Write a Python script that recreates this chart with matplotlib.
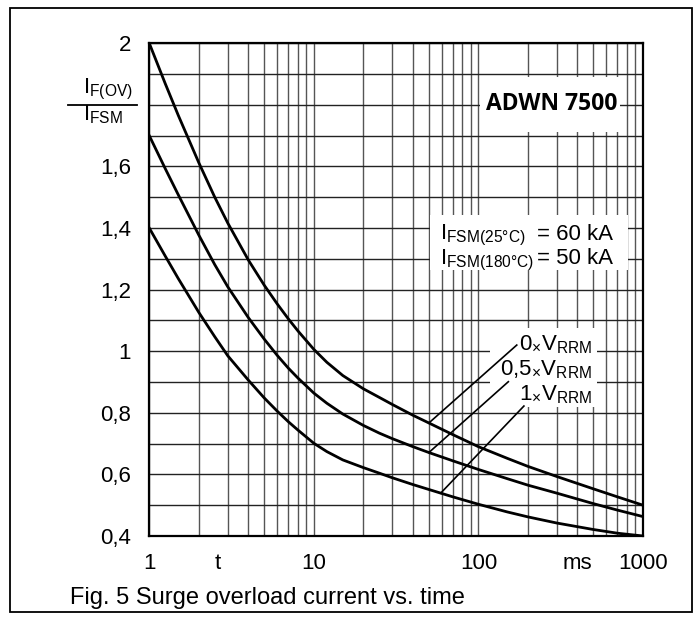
import numpy as np
import matplotlib.pyplot as plt
from matplotlib.patches import Rectangle
from matplotlib.ticker import LogLocator, MultipleLocator, NullFormatter

plt.rcParams['font.family'] = ['Liberation Sans', 'DejaVu Sans']
plt.rcParams['mathtext.default'] = 'regular'

# surge time t [ms]
t_ms = [1, 1.25, 1.5, 2, 2.5, 3, 4, 5, 6, 7, 8, 10, 12, 15, 20, 25, 30, 40, 50,
        70, 100, 150, 200, 300, 500, 700, 1000]
# I_F(OV) / I_FSM for the three reverse voltages
ratio_0v = [2.0, 1.869, 1.766, 1.612, 1.5, 1.416, 1.296, 1.214, 1.153, 1.105, 1.066, 1.006,
            0.964, 0.921, 0.878, 0.85, 0.827, 0.792, 0.767, 0.729, 0.69, 0.652, 0.626,
            0.593, 0.553, 0.527, 0.5]
ratio_05v = [1.7, 1.593, 1.508, 1.377, 1.281, 1.209, 1.109, 1.039, 0.986, 0.945, 0.913, 0.864,
             0.831, 0.796, 0.759, 0.734, 0.716, 0.69, 0.671, 0.644, 0.616, 0.586, 0.565,
             0.539, 0.505, 0.484, 0.463]
ratio_1v = [1.4, 1.309, 1.236, 1.126, 1.047, 0.985, 0.906, 0.848, 0.805, 0.771, 0.744, 0.701,
            0.674, 0.647, 0.622, 0.604, 0.589, 0.567, 0.551, 0.527, 0.503, 0.478, 0.462,
            0.442, 0.421, 0.409, 0.4]

x_ticks = [1, 10, 100, 1000]
x_tick_labels = ['1', '10', '100', '1000']
y_ticks = [0.4, 0.6, 0.8, 1.0, 1.2, 1.4, 1.6, 2.0]
y_tick_labels = ['0,4', '0,6', '0,8', '1', '1,2', '1,4', '1,6', '2']

curve_labels = [r'0$_{\times}$V$_{RRM}$', r'0,5$_{\times}$V$_{RRM}$', r'1$_{\times}$V$_{RRM}$']
leader_t = [50, 50, 59]
leader_end = [(171, 1.02), (152, 0.901), (189, 0.822)]

fig = plt.figure(figsize=(6.97, 6.2), dpi=100)
ax = fig.add_axes([0.2142, 0.1355, 0.7083, 0.7947])
ax.set_axisbelow(True)

curves = [ratio_0v, ratio_05v, ratio_1v]
for r in curves:
    ax.plot(t_ms, r, color='black', lw=2.0, zorder=3, solid_joinstyle='round')

ax.set_xscale('log')
ax.set_xlim(1, 1000)
ax.set_ylim(0.4, 2.0)
ax.set_xticks(x_ticks)
ax.set_xticklabels(x_tick_labels)
ax.xaxis.set_minor_locator(LogLocator(base=10, subs=range(2, 10)))
ax.xaxis.set_minor_formatter(NullFormatter())
ax.set_yticks(y_ticks)
ax.set_yticklabels(y_tick_labels)
ax.yaxis.set_minor_locator(MultipleLocator(0.1))
ax.tick_params(which='both', length=0, labelsize=16)
ax.tick_params(axis='x', pad=12)
ax.tick_params(axis='y', pad=13)
ax.grid(which='both', axis='x', color='#555555', lw=1.0)
ax.grid(which='both', axis='y', color='#222222', lw=1.0)
for s in ax.spines.values():
    s.set_linewidth(1.6)

# white boxes behind the texts
for x0, y0, w, h in [(0.670, 0.820, 0.283, 0.112),
                     (0.569, 0.540, 0.400, 0.111),
                     (0.690, 0.262, 0.217, 0.160)]:
    ax.add_patch(Rectangle((x0, y0), w, h, transform=ax.transAxes,
                           fc='white', ec='none', zorder=1))

ax.text(0.815, 0.8645, 'ADWN 7500', transform=ax.transAxes, ha='center',
        va='baseline', fontsize=16.5, fontweight='bold', family='Open Sans', zorder=4)

ax.text(0.589, 0.601, r'$I_{FSM(25°C)}$', transform=ax.transAxes, fontsize=16, va='baseline', zorder=4)
ax.text(0.785, 0.601, '= 60 kA', transform=ax.transAxes, fontsize=16, va='baseline', zorder=4)
ax.text(0.589, 0.552, r'$I_{FSM(180°C)}$', transform=ax.transAxes, fontsize=16, va='baseline', zorder=4)
ax.text(0.785, 0.552, '= 50 kA', transform=ax.transAxes, fontsize=16, va='baseline', zorder=4)

for lab, ty in zip(curve_labels, [0.3775, 0.3268, 0.276]):
    ax.text(0.8967, ty, lab, transform=ax.transAxes, ha='right', va='baseline',
            fontsize=16, zorder=4)
for t0, r, (xe, ye) in zip(leader_t, curves, leader_end):
    y0 = np.interp(np.log10(t0), np.log10(t_ms), r)
    ax.plot([t0, xe], [y0, ye], color='black', lw=1.2, zorder=3)

# axis names
for xt, lab in [(2.6, 't'), (400, 'ms')]:
    ax.annotate(lab, xy=(xt, 0), xycoords=('data', 'axes fraction'),
                xytext=(0, -12), textcoords='offset points', ha='center',
                va='top', fontsize=16)

ax.text(-0.134, 0.898, r'$I_{F(OV)}$', transform=ax.transAxes, fontsize=16, va='baseline')
ax.text(-0.134, 0.8444, r'$I_{FSM}$', transform=ax.transAxes, fontsize=16, va='baseline')
ax.plot([-0.165, -0.025], [0.875, 0.875], transform=ax.transAxes, color='black',
        lw=1.3, clip_on=False)

fig.text(0.1004, 0.0258, 'Fig. 5 Surge overload current vs. time', fontsize=17, va='baseline')
fig.add_artist(Rectangle((0.014, 0.0129), 0.9788, 0.975, transform=fig.transFigure,
                         fill=False, ec='black', lw=1.3))

fig.savefig('out.png', dpi=100)
